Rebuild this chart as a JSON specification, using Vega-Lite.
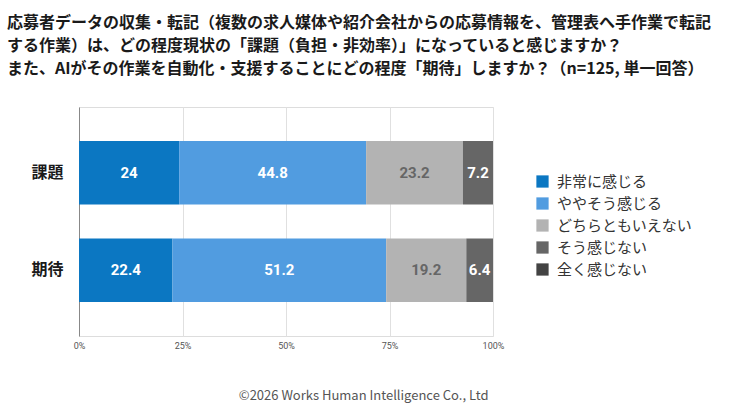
{
  "$schema": "https://vega.github.io/schema/vega-lite/v6.json",
  "autosize": {"type": "none"},
  "width": 414,
  "height": 229,
  "padding": {"left": 79, "top": 107, "right": 247, "bottom": 80},
  "background": "white",
  "title": {
    "text": ["応募者データの収集・転記（複数の求人媒体や紹介会社からの応募情報を、管理表へ手作業で転記", "する作業）は、どの程度現状の「課題（負担・非効率）」になっていると感じますか？", "また、AIがその作業を自動化・支援することにどの程度「期待」しますか？（n=125, 単一回答）"],
    "anchor": "start",
    "frame": "group",
    "dx": -72,
    "offset": 30,
    "font": "Noto Sans CJK JP",
    "fontSize": 16,
    "fontWeight": "bold",
    "lineHeight": 23,
    "color": "#1a1a1a"
  },
  "data": {
    "values": [
      {"q": "課題", "cat": "非常に感じる", "order": 1, "value": 24},
      {"q": "課題", "cat": "ややそう感じる", "order": 2, "value": 44.8},
      {"q": "課題", "cat": "どちらともいえない", "order": 3, "value": 23.2},
      {"q": "課題", "cat": "そう感じない", "order": 4, "value": 7.2},
      {"q": "課題", "cat": "全く感じない", "order": 5, "value": 0},
      {"q": "期待", "cat": "非常に感じる", "order": 1, "value": 22.4},
      {"q": "期待", "cat": "ややそう感じる", "order": 2, "value": 51.2},
      {"q": "期待", "cat": "どちらともいえない", "order": 3, "value": 19.2},
      {"q": "期待", "cat": "そう感じない", "order": 4, "value": 6.4},
      {"q": "期待", "cat": "全く感じない", "order": 5, "value": 0}
    ]
  },
  "transform": [
    {"stack": "value", "groupby": ["q"], "sort": [{"field": "order", "order": "ascending"}], "as": ["v0", "v1"], "offset": "normalize"},
    {"calculate": "(datum.v0 + datum.v1) / 2", "as": "vmid"}
  ],
  "encoding": {
    "y": {
      "field": "q",
      "type": "nominal",
      "sort": ["課題", "期待"],
      "scale": {"paddingInner": 0.35, "paddingOuter": 0.35},
      "axis": {
        "title": null,
        "ticks": false,
        "labelPadding": 16,
        "labelFont": "Noto Sans CJK JP",
        "labelFontSize": 16,
        "labelFontWeight": "bold",
        "labelColor": "#1a1a1a",
        "domainColor": "#888888",
        "domainWidth": 1
      }
    }
  },
  "layer": [
    {
      "mark": {"type": "bar"},
      "encoding": {
        "x": {
          "field": "v0",
          "type": "quantitative",
          "scale": {"domain": [0, 1], "nice": false},
          "axis": {
            "format": "%",
            "values": [0, 0.25, 0.5, 0.75, 1],
            "labelFlush": false,
            "title": "©2026 Works Human Intelligence Co., Ltd",
            "titleFont": "Noto Sans CJK JP",
            "titleFontSize": 13,
            "titleFontWeight": "normal",
            "titleColor": "#555555",
            "titleAnchor": "end",
            "titleAlign": "right",
            "titleX": 409,
            "titlePadding": 39,
            "labelFont": "Roboto",
            "labelFontSize": 9,
            "labelColor": "#555555",
            "labelPadding": 5,
            "domain": false,
            "ticks": false,
            "grid": true,
            "gridColor": "#e0e0e0",
            "gridWidth": 1
          }
        },
        "x2": {"field": "v1"},
        "color": {
          "field": "cat",
          "type": "nominal",
          "sort": ["非常に感じる", "ややそう感じる", "どちらともいえない", "そう感じない", "全く感じない"],
          "scale": {
            "domain": ["非常に感じる", "ややそう感じる", "どちらともいえない", "そう感じない", "全く感じない"],
            "range": ["#0b77c2", "#519ce0", "#b3b3b3", "#666666", "#434343"]
          },
          "legend": {
            "title": null,
            "orient": "none",
            "legendX": 456,
            "legendY": 67,
            "symbolType": "square",
            "symbolSize": 150,
            "symbolStrokeWidth": 0,
            "labelFont": "Noto Sans CJK JP",
            "labelFontSize": 15,
            "labelColor": "#333333",
            "labelLimit": 300,
            "rowPadding": 6,
            "labelOffset": 7
          }
        }
      }
    },
    {
      "transform": [{"filter": "datum.value > 0"}],
      "mark": {"type": "text", "font": "Roboto", "fontSize": 15, "fontWeight": "bold", "align": "center", "baseline": "middle"},
      "encoding": {
        "x": {"field": "vmid", "type": "quantitative"},
        "text": {"field": "value", "type": "quantitative"},
        "color": {
          "condition": {"test": "datum.cat === 'どちらともいえない'", "value": "#666666"},
          "value": "#ffffff"
        }
      }
    }
  ]
}
